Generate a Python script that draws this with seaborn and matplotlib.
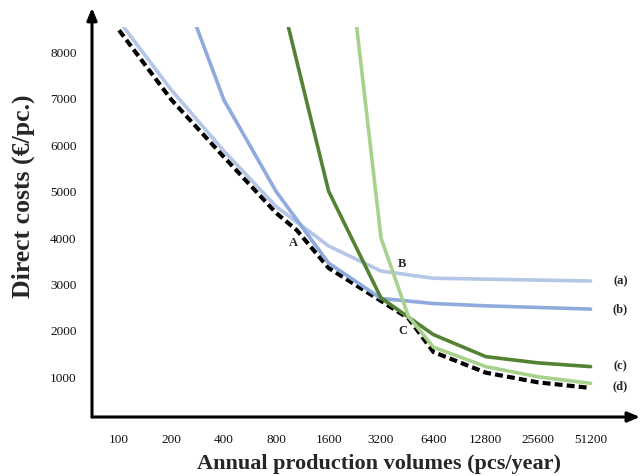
import matplotlib
matplotlib.use("Agg")
import matplotlib.pyplot as plt
import seaborn as sns
import pandas as pd

sns.set_theme(style="white")
plt.rcParams['font.family'] = ['Liberation Serif', 'DejaVu Serif']

# ---- data ----
tick_volumes = [100, 200, 400, 800, 1600, 3200, 6400, 12800, 25600, 51200]
tick_labels = ["100", "200", "400", "800", "1600", "3200", "6400", "12800", "25600", "51200"]
y_ticks = [1000, 2000, 3000, 4000, 5000, 6000, 7000, 8000]

a_x = [100, 200, 400, 800, 1600, 3200, 6400, 12800, 25600, 51200]
a_y = [8680, 7190, 5880, 4680, 3830, 3290, 3135, 3115, 3095, 3075]

b_x = [200, 400, 800, 1600, 3200, 6400, 12800, 25600, 51200]
b_y = [10000, 6980, 5000, 3460, 2700, 2590, 2540, 2505, 2470]

c_x = [800, 1600, 3200, 6400, 12800, 25600, 51200]
c_y = [9620, 5010, 2710, 1920, 1445, 1310, 1230]

d_x = [1600, 3200, 4600, 6400, 12800, 25600, 51200]
d_y = [13800, 4000, 2310, 1650, 1230, 1010, 870]

env_x = [100, 200, 400, 800, 1050, 1600, 3200, 4600, 6400, 12800, 25600, 51200]
env_y = [8480, 6980, 5750, 4540, 4170, 3355, 2645, 2270, 1545, 1100, 890, 770]

series_names = ["(a)", "(b)", "(c)", "(d)"]
series_colors = ["#B4C7E7", "#8FAADC", "#548235", "#A9D18E"]

W, H = 643, 476
fig = plt.figure(figsize=(W / 100, H / 100), dpi=100)
left, right, top, bottom = 92, 640, 27, 417
ax = fig.add_axes([left / W, (H - bottom) / H, (right - left) / W, (bottom - top) / H])

ax.set_xscale('log', base=2)

env_df = pd.DataFrame({"x": env_x, "y": env_y})
sns.lineplot(data=env_df, x="x", y="y", ax=ax, color="black", lw=3.0,
             linestyle=(0, (1.9, 1.0)), zorder=2, sort=False)

for name, xs, ys, col in zip(series_names, [a_x, b_x, c_x, d_x], [a_y, b_y, c_y, d_y], series_colors):
    df = pd.DataFrame({"x": xs, "y": ys})
    sns.lineplot(data=df, x="x", y="y", ax=ax, color=col, lw=2.6, zorder=3,
                 sort=False, solid_capstyle='round')

ax.set_xlim(69.9, 98450)
ax.set_ylim(144, 8550)

ax.set_xticks(tick_volumes)
ax.set_xticklabels(tick_labels)
ax.minorticks_off()
ax.set_yticks(y_ticks)
ax.set_yticklabels([str(v) for v in y_ticks])
ax.tick_params(axis='both', length=0, labelsize=9.5, colors='#111111')
ax.tick_params(axis='x', pad=12)
ax.tick_params(axis='y', pad=11)

for s in ax.spines.values():
    s.set_visible(False)
ax.grid(False)

# axis arrows
ax.annotate("", xy=(0, 1.049), xytext=(0, 0), xycoords='axes fraction',
            arrowprops=dict(arrowstyle='-|>,head_width=0.25,head_length=0.6', color='black', lw=2.2,
                            shrinkA=0, shrinkB=0), annotation_clip=False)
ax.annotate("", xy=(1.0, 0), xytext=(0, 0), xycoords='axes fraction',
            arrowprops=dict(arrowstyle='-|>,head_width=0.25,head_length=0.6', color='black', lw=2.2,
                            shrinkA=0, shrinkB=0), annotation_clip=False)

ax.set_xlabel("Annual production volumes (pcs/year)", fontsize=16, fontweight='bold')
ax.xaxis.set_label_coords(0.524, -0.096)
ax.set_ylabel("Direct costs (€/pc.)", fontsize=18.5, fontweight='bold')
ax.yaxis.set_label_coords(-0.104, 0.566)

# series labels at right
label_y = [3075, 2470, 1230, 800]
for name, yv in zip(series_names, label_y):
    ax.text(76000, yv, name, fontsize=9, fontweight='bold', va='center', ha='center',
            clip_on=False)

# point labels
ax.text(1000, 3900, "A", fontsize=9, fontweight='bold', ha='center', va='center')
ax.text(4200, 3450, "B", fontsize=9, fontweight='bold', ha='center', va='center')
ax.text(4300, 1990, "C", fontsize=9, fontweight='bold', ha='center', va='center')

fig.savefig("out.png", dpi=100)
